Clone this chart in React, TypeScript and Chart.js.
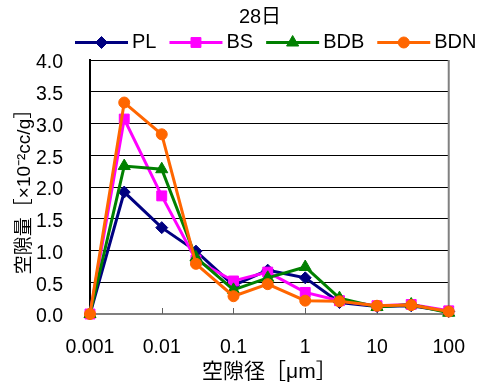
import React, { useEffect, useRef } from 'react';
import { Chart, registerables } from 'chart.js';

Chart.register(...registerables);

const FONT = "'Liberation Sans', Arial, 'Noto Sans CJK JP', sans-serif";

const chartTitle = '28日';
const xAxisTitle = '空隙径［μm］';
const yAxisTitle = '空隙量［×10⁻²cc/g］';

const poreSizes = [0.001, 0.003, 0.01, 0.03, 0.1, 0.3, 1, 3, 10, 30, 100];
const xTickValues = [0.001, 0.01, 0.1, 1, 10, 100];
const xTickLabels = ['0.001', '0.01', '0.1', '1', '10', '100'];

const seriesNames = ['PL', 'BS', 'BDB', 'BDN'];
const plValues = [0, 1.92, 1.36, 0.99, 0.45, 0.69, 0.57, 0.18, 0.12, 0.13, 0.04];
const bsValues = [0, 3.07, 1.86, 0.85, 0.52, 0.66, 0.34, 0.21, 0.13, 0.15, 0.05];
const bdbValues = [0, 2.33, 2.28, 0.89, 0.38, 0.57, 0.74, 0.25, 0.11, 0.15, 0.02];
const bdnValues = [0, 3.33, 2.83, 0.79, 0.28, 0.47, 0.21, 0.2, 0.13, 0.14, 0.04];
const seriesValues = [plValues, bsValues, bdbValues, bdnValues];

const seriesColors = ['#000080', '#FF00FF', '#008000', '#FF6600'];
const seriesMarkers = ['rectRot', 'rect', 'triangle', 'circle'];
const markerRadii = [6, 7, 7, 5.5];

function drawMarker(ctx: CanvasRenderingContext2D, style: string, x: number, y: number, r: number, color: string) {
  ctx.save();
  ctx.fillStyle = color;
  ctx.strokeStyle = color;
  ctx.lineWidth = 1;
  ctx.beginPath();
  if (style === 'rectRot') {
    ctx.moveTo(x - r, y);
    ctx.lineTo(x, y - r);
    ctx.lineTo(x + r, y);
    ctx.lineTo(x, y + r);
    ctx.closePath();
  } else if (style === 'rect') {
    const s = r * Math.SQRT1_2;
    ctx.rect(x - s, y - s, 2 * s, 2 * s);
  } else if (style === 'triangle') {
    ctx.moveTo(x, y - r);
    ctx.lineTo(x + 0.866 * r, y + r / 2);
    ctx.lineTo(x - 0.866 * r, y + r / 2);
    ctx.closePath();
  } else {
    ctx.arc(x, y, r, 0, Math.PI * 2);
  }
  ctx.fill();
  ctx.stroke();
  ctx.restore();
}

const framePlugin = {
  id: 'frame',
  beforeDatasetsDraw(chart: any) {
    const { ctx, chartArea } = chart;
    const xScale = chart.scales.x;
    ctx.save();
    ctx.strokeStyle = '#808080';
    ctx.lineWidth = 2;
    ctx.beginPath();
    ctx.moveTo(chartArea.right, chartArea.top);
    ctx.lineTo(chartArea.right, chartArea.bottom);
    ctx.stroke();
    ctx.lineWidth = 1;
    ctx.strokeStyle = '#606060';
    xTickValues.forEach((v) => {
      const px = Math.round(xScale.getPixelForValue(v)) + 0.5;
      ctx.beginPath();
      ctx.moveTo(px, chartArea.bottom - 6);
      ctx.lineTo(px, chartArea.bottom);
      ctx.stroke();
    });
    ctx.restore();
  },
};

const headerPlugin = {
  id: 'header',
  afterDraw(chart: any) {
    const { ctx } = chart;
    ctx.save();
    ctx.fillStyle = '#000';
    ctx.textBaseline = 'middle';
    ctx.textAlign = 'center';
    ctx.font = `20px ${FONT}`;
    ctx.fillText(chartTitle, 260, 17);

    ctx.font = `20px ${FONT}`;
    ctx.textAlign = 'left';
    const y = 42.5;
    let x = 75;
    chart.data.datasets.forEach((ds: any, i: number) => {
      ctx.strokeStyle = seriesColors[i];
      ctx.lineWidth = 3;
      ctx.beginPath();
      ctx.moveTo(x, y);
      ctx.lineTo(x + 53, y);
      ctx.stroke();
      drawMarker(ctx, seriesMarkers[i], x + 26.5, y, markerRadii[i], seriesColors[i]);
      ctx.fillStyle = '#000';
      ctx.fillText(ds.label, x + 57, y);
      x += 57 + ctx.measureText(ds.label).width + 13;
    });
    ctx.restore();
  },
};

export default function App() {
  const canvasRef = useRef<HTMLCanvasElement | null>(null);

  useEffect(() => {
    document.body.style.margin = '0';
    const canvas = canvasRef.current;
    if (!canvas) return;
    Chart.defaults.font.family = FONT;
    Chart.defaults.color = '#000';

    const chart = new Chart(canvas, {
      type: 'line',
      data: {
        datasets: seriesNames.map((name, i) => ({
          label: name,
          data: poreSizes.map((x, j) => ({ x, y: seriesValues[i][j] })),
          borderColor: seriesColors[i],
          backgroundColor: seriesColors[i],
          pointBackgroundColor: seriesColors[i],
          pointBorderColor: seriesColors[i],
          borderWidth: 3,
          pointStyle: seriesMarkers[i] as any,
          pointRadius: markerRadii[i],
          pointBorderWidth: 1,
          tension: 0,
          order: seriesNames.length - i,
          clip: false as any,
        })),
      },
      options: {
        responsive: false,
        animation: false,
        layout: { padding: { top: 60, left: 0, right: 0, bottom: 0 } },
        plugins: {
          legend: { display: false },
          title: { display: false },
          tooltip: { enabled: false },
        },
        scales: {
          x: {
            type: 'logarithmic',
            min: 0.001,
            max: 100,
            afterBuildTicks: (axis: any) => {
              axis.ticks = xTickValues.map((v) => ({ value: v }));
            },
            afterFit: (axis: any) => {
              axis.height = 73;
            },
            ticks: {
              callback: (_v: any, i: number) => xTickLabels[i] ?? '',
              font: { size: 19.5 },
              color: '#000',
              padding: 22,
              maxRotation: 0,
              autoSkip: false,
            },
            grid: { display: true, drawOnChartArea: false, drawTicks: false },
            border: { display: true, color: '#808080', width: 2 },
            title: {
              display: true,
              text: xAxisTitle,
              font: { size: 21 },
              color: '#000',
              padding: { top: 0, bottom: 2.4 },
            },
          },
          y: {
            min: 0,
            max: 4,
            afterFit: (axis: any) => {
              axis.width = 90;
            },
            ticks: {
              stepSize: 0.5,
              callback: (v: any) => Number(v).toFixed(1),
              font: { size: 19.5 },
              color: '#000',
              padding: 27,
              labelOffset: 3,
            },
            grid: { color: '#000', lineWidth: 1, drawTicks: false },
            border: { display: true, color: '#000', width: 2 },
            title: {
              display: true,
              text: yAxisTitle,
              font: { size: 19 },
              color: '#000',
              padding: { top: 13.6, bottom: 0 },
            },
          },
        },
      } as any,
      plugins: [framePlugin, headerPlugin],
    });

    return () => chart.destroy();
  }, []);

  return (
    <div style={{ width: 487, height: 387 }}>
      <canvas ref={canvasRef} width={487} height={387} style={{ display: 'block' }} />
    </div>
  );
}
